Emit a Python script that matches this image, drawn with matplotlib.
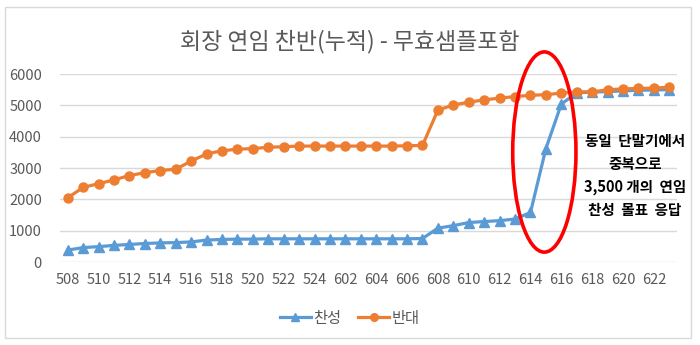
import matplotlib
matplotlib.use("Agg")
import matplotlib.pyplot as plt
from matplotlib.patches import Ellipse, Rectangle
from matplotlib.lines import Line2D

plt.rcParams['font.family'] = ['Noto Sans CJK KR', 'DejaVu Sans']

categories = ([str(d) for d in range(508, 525)] + ['525'] +
              [str(d) for d in range(602, 624)])

yes_votes = [380, 460, 490, 530, 560, 590, 610, 620, 640, 700,
             720, 730, 730, 740, 740, 740, 740, 740, 740, 740,
             740, 740, 740, 750, 1080, 1160, 1260, 1290, 1320, 1370,
             1580, 3620, 5040, 5400, 5420, 5440, 5460, 5480, 5490, 5500]

no_votes = [2050, 2380, 2500, 2620, 2760, 2850, 2920, 2960, 3220, 3450,
            3550, 3600, 3620, 3660, 3680, 3700, 3700, 3700, 3700, 3700,
            3700, 3700, 3710, 3720, 4850, 5010, 5100, 5175, 5230, 5280,
            5320, 5340, 5390, 5430, 5430, 5495, 5525, 5540, 5550, 5580]

series_names = ['찬성', '반대']
title = '회장 연임 찬반(누적) - 무효샘플포함'
note = '동일  단말기에서\n중복으로\n3,500 개의  연임\n찬성  몰표  응답'
yticks = [0, 1000, 2000, 3000, 4000, 5000, 6000]

BLUE = '#5B9BD5'
ORANGE = '#ED7D31'
GRAY = '#595959'
GRID = '#D9D9D9'

fig = plt.figure(figsize=(7.0, 3.45), dpi=100)
fig.patches.append(Rectangle((5/700, 1-338/345), 686/700, 331/345,
                             transform=fig.transFigure, fill=False,
                             edgecolor=GRID, linewidth=1.0))

ax = fig.add_axes([60/700, 1-262/345, 617/700, 188/345])
x = list(range(len(categories)))
ax.plot(x, yes_votes, color=BLUE, linewidth=2.3, marker='^', markersize=6.5,
        label=series_names[0], zorder=3)
ax.plot(x, no_votes, color=ORANGE, linewidth=2.3, marker='o', markersize=6.5,
        label=series_names[1], zorder=3)

ax.set_xlim(-0.5, len(categories) - 0.5)
ax.set_ylim(0, 6000)
ax.set_yticks(yticks)
ax.set_yticklabels([str(v) for v in yticks])
ax.set_xticks(x[::2])
ax.set_xticklabels(categories[::2])
ax.tick_params(axis='both', length=0, colors=GRAY, labelsize=10.5)
ax.tick_params(axis='y', pad=13)
ax.tick_params(axis='x', pad=8)
ax.grid(axis='y', color=GRID, linewidth=1.0)
ax.set_axisbelow(True)
for s in ax.spines.values():
    s.set_visible(False)

fig.text(0.5, 1-42/345, title, ha='center', va='center', fontsize=16.5, color=GRAY)

ell = Ellipse((30.9, 3510), width=4.1, height=6390, fill=False,
              edgecolor='#FF0000', linewidth=2.6, clip_on=False, zorder=4)
ax.add_patch(ell)

fig.text(635/700, 1-175.5/345, note, ha='center', va='center', fontsize=10.5,
         fontweight='bold', color='black', linespacing=1.55)

handles = [Line2D([], [], color=BLUE, linewidth=2.3, marker='^', markersize=5.5),
           Line2D([], [], color=ORANGE, linewidth=2.3, marker='o', markersize=5.5)]
leg = fig.legend(handles, series_names, loc='center', bbox_to_anchor=(0.5, 1-318/345),
                 ncol=2, frameon=False, fontsize=11, handlelength=2.0,
                 handletextpad=0.2, columnspacing=1.1, labelcolor=GRAY)

fig.savefig('out.png', dpi=100)
